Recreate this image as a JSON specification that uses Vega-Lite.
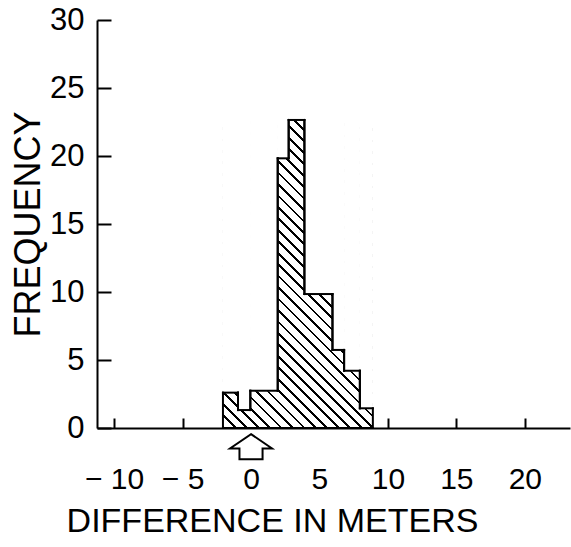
{
  "$schema": "https://vega.github.io/schema/vega-lite/v6.json",
  "width": 473,
  "height": 408,
  "autosize": {"type": "none"},
  "padding": {"left": 97, "top": 20, "right": 1, "bottom": 119},
  "config": {"view": {"stroke": null}, "font": "Liberation Sans"},
  "data": {"values": [
    {"x0": -2.05, "x1": -0.95, "h": 2.6},
    {"x0": -0.95, "x1": -0.05, "h": 1.32},
    {"x0": -0.05, "x1": 1.95, "h": 2.74},
    {"x0": 1.95, "x1": 2.75, "h": 19.83},
    {"x0": 2.75, "x1": 3.9, "h": 22.65},
    {"x0": 3.9, "x1": 5.95, "h": 9.85},
    {"x0": 5.95, "x1": 6.8, "h": 5.74},
    {"x0": 6.8, "x1": 7.95, "h": 4.21},
    {"x0": 7.95, "x1": 8.9, "h": 1.45}
  ]},
  "layer": [
    {
      "transform": [{"aggregate": [
        {"op": "min", "field": "x0", "as": "xmin"},
        {"op": "max", "field": "x1", "as": "xmax"},
        {"op": "max", "field": "h", "as": "hmax"}
      ]}],
      "mark": {"type": "rect", "fill": {"gradient": "linear", "x1": 0, "y1": 1, "x2": 0.585, "y2": -0.202, "stops": [
        {"offset": 0, "color": "black"}, {"offset": 0.006, "color": "black"}, {"offset": 0.006, "color": "white"}, {"offset": 0.025, "color": "white"},
        {"offset": 0.025, "color": "black"}, {"offset": 0.031, "color": "black"}, {"offset": 0.031, "color": "white"}, {"offset": 0.05, "color": "white"},
        {"offset": 0.05, "color": "black"}, {"offset": 0.056, "color": "black"}, {"offset": 0.056, "color": "white"}, {"offset": 0.075, "color": "white"},
        {"offset": 0.075, "color": "black"}, {"offset": 0.081, "color": "black"}, {"offset": 0.081, "color": "white"}, {"offset": 0.1, "color": "white"},
        {"offset": 0.1, "color": "black"}, {"offset": 0.106, "color": "black"}, {"offset": 0.106, "color": "white"}, {"offset": 0.125, "color": "white"},
        {"offset": 0.125, "color": "black"}, {"offset": 0.131, "color": "black"}, {"offset": 0.131, "color": "white"}, {"offset": 0.15, "color": "white"},
        {"offset": 0.15, "color": "black"}, {"offset": 0.156, "color": "black"}, {"offset": 0.156, "color": "white"}, {"offset": 0.175, "color": "white"},
        {"offset": 0.175, "color": "black"}, {"offset": 0.181, "color": "black"}, {"offset": 0.181, "color": "white"}, {"offset": 0.2, "color": "white"},
        {"offset": 0.2, "color": "black"}, {"offset": 0.206, "color": "black"}, {"offset": 0.206, "color": "white"}, {"offset": 0.225, "color": "white"},
        {"offset": 0.225, "color": "black"}, {"offset": 0.231, "color": "black"}, {"offset": 0.231, "color": "white"}, {"offset": 0.25, "color": "white"},
        {"offset": 0.25, "color": "black"}, {"offset": 0.256, "color": "black"}, {"offset": 0.256, "color": "white"}, {"offset": 0.275, "color": "white"},
        {"offset": 0.275, "color": "black"}, {"offset": 0.281, "color": "black"}, {"offset": 0.281, "color": "white"}, {"offset": 0.3, "color": "white"},
        {"offset": 0.3, "color": "black"}, {"offset": 0.306, "color": "black"}, {"offset": 0.306, "color": "white"}, {"offset": 0.325, "color": "white"},
        {"offset": 0.325, "color": "black"}, {"offset": 0.331, "color": "black"}, {"offset": 0.331, "color": "white"}, {"offset": 0.35, "color": "white"},
        {"offset": 0.35, "color": "black"}, {"offset": 0.356, "color": "black"}, {"offset": 0.356, "color": "white"}, {"offset": 0.375, "color": "white"},
        {"offset": 0.375, "color": "black"}, {"offset": 0.381, "color": "black"}, {"offset": 0.381, "color": "white"}, {"offset": 0.4, "color": "white"},
        {"offset": 0.4, "color": "black"}, {"offset": 0.406, "color": "black"}, {"offset": 0.406, "color": "white"}, {"offset": 0.425, "color": "white"},
        {"offset": 0.425, "color": "black"}, {"offset": 0.431, "color": "black"}, {"offset": 0.431, "color": "white"}, {"offset": 0.45, "color": "white"},
        {"offset": 0.45, "color": "black"}, {"offset": 0.456, "color": "black"}, {"offset": 0.456, "color": "white"}, {"offset": 0.475, "color": "white"},
        {"offset": 0.475, "color": "black"}, {"offset": 0.481, "color": "black"}, {"offset": 0.481, "color": "white"}, {"offset": 0.5, "color": "white"},
        {"offset": 0.5, "color": "black"}, {"offset": 0.506, "color": "black"}, {"offset": 0.506, "color": "white"}, {"offset": 0.525, "color": "white"},
        {"offset": 0.525, "color": "black"}, {"offset": 0.531, "color": "black"}, {"offset": 0.531, "color": "white"}, {"offset": 0.55, "color": "white"},
        {"offset": 0.55, "color": "black"}, {"offset": 0.556, "color": "black"}, {"offset": 0.556, "color": "white"}, {"offset": 0.575, "color": "white"},
        {"offset": 0.575, "color": "black"}, {"offset": 0.581, "color": "black"}, {"offset": 0.581, "color": "white"}, {"offset": 0.6, "color": "white"},
        {"offset": 0.6, "color": "black"}, {"offset": 0.606, "color": "black"}, {"offset": 0.606, "color": "white"}, {"offset": 0.625, "color": "white"},
        {"offset": 0.625, "color": "black"}, {"offset": 0.631, "color": "black"}, {"offset": 0.631, "color": "white"}, {"offset": 0.65, "color": "white"},
        {"offset": 0.65, "color": "black"}, {"offset": 0.656, "color": "black"}, {"offset": 0.656, "color": "white"}, {"offset": 0.675, "color": "white"},
        {"offset": 0.675, "color": "black"}, {"offset": 0.681, "color": "black"}, {"offset": 0.681, "color": "white"}, {"offset": 0.7, "color": "white"},
        {"offset": 0.7, "color": "black"}, {"offset": 0.706, "color": "black"}, {"offset": 0.706, "color": "white"}, {"offset": 0.725, "color": "white"},
        {"offset": 0.725, "color": "black"}, {"offset": 0.731, "color": "black"}, {"offset": 0.731, "color": "white"}, {"offset": 0.75, "color": "white"},
        {"offset": 0.75, "color": "black"}, {"offset": 0.756, "color": "black"}, {"offset": 0.756, "color": "white"}, {"offset": 0.775, "color": "white"},
        {"offset": 0.775, "color": "black"}, {"offset": 0.781, "color": "black"}, {"offset": 0.781, "color": "white"}, {"offset": 0.8, "color": "white"},
        {"offset": 0.8, "color": "black"}, {"offset": 0.806, "color": "black"}, {"offset": 0.806, "color": "white"}, {"offset": 0.825, "color": "white"},
        {"offset": 0.825, "color": "black"}, {"offset": 0.831, "color": "black"}, {"offset": 0.831, "color": "white"}, {"offset": 0.85, "color": "white"},
        {"offset": 0.85, "color": "black"}, {"offset": 0.856, "color": "black"}, {"offset": 0.856, "color": "white"}, {"offset": 0.875, "color": "white"},
        {"offset": 0.875, "color": "black"}, {"offset": 0.881, "color": "black"}, {"offset": 0.881, "color": "white"}, {"offset": 0.9, "color": "white"},
        {"offset": 0.9, "color": "black"}, {"offset": 0.906, "color": "black"}, {"offset": 0.906, "color": "white"}, {"offset": 0.925, "color": "white"},
        {"offset": 0.925, "color": "black"}, {"offset": 0.931, "color": "black"}, {"offset": 0.931, "color": "white"}, {"offset": 0.95, "color": "white"},
        {"offset": 0.95, "color": "black"}, {"offset": 0.956, "color": "black"}, {"offset": 0.956, "color": "white"}, {"offset": 0.975, "color": "white"},
        {"offset": 0.975, "color": "black"}, {"offset": 0.981, "color": "black"}, {"offset": 0.981, "color": "white"}, {"offset": 1, "color": "white"}
      ]}},
      "encoding": {
        "x": {"field": "xmin", "type": "quantitative", "title": "DIFFERENCE IN METERS",
          "scale": {"domain": [-11.25, 23.3], "nice": false, "zero": false},
          "axis": {"values": [-10, -5, 0, 5, 10, 15, 20],
            "labelExpr": "datum.value < 0 ? '− ' + abs(datum.value) : datum.label",
            "grid": false, "tickSize": -10, "tickWidth": 2, "tickColor": "black",
            "domainColor": "black", "domainWidth": 2,
            "labelFont": "Liberation Sans", "labelFontSize": 30, "labelColor": "black",
            "labelPadding": 46, "labelFlush": false, "labelOverlap": false,
            "titleFont": "Liberation Sans", "titleFontSize": 34, "titleFontWeight": "normal",
            "titleColor": "black", "titleX": 175, "titlePadding": 10}},
        "x2": {"field": "xmax"},
        "y": {"field": "hmax", "type": "quantitative", "title": "FREQUENCY",
          "scale": {"domain": [0, 30], "nice": false, "zero": false},
          "axis": {"values": [0, 5, 10, 15, 20, 25, 30],
            "grid": false, "tickSize": -14, "tickWidth": 2, "tickColor": "black",
            "domainColor": "black", "domainWidth": 2,
            "labelFont": "Liberation Sans", "labelFontSize": 31, "labelColor": "black",
            "labelPadding": 27, "labelOverlap": false,
            "titleFont": "Liberation Sans", "titleFontSize": 36, "titleFontWeight": "normal",
            "titleColor": "black", "titlePadding": 2}},
        "y2": {"datum": 0}
      }
    },
    {
      "transform": [{"joinaggregate": [{"op": "max", "field": "h", "as": "hmax"}]}],
      "mark": {"type": "rect", "fill": "white", "stroke": "white", "strokeWidth": 1},
      "encoding": {
        "x": {"field": "x0", "type": "quantitative", "title": "DIFFERENCE IN METERS"},
        "x2": {"field": "x1"},
        "y": {"field": "h", "type": "quantitative", "title": "FREQUENCY"},
        "y2": {"field": "hmax"}
      }
    },
    {
      "transform": [
        {"window": [{"op": "lag", "field": "h", "as": "hprev"}, {"op": "lead", "field": "h", "as": "hnext"}], "sort": [{"field": "x0", "order": "ascending"}]},
        {"calculate": "isValid(datum.hprev) ? datum.hprev : 0", "as": "hp"},
        {"calculate": "isValid(datum.hnext) ? datum.hnext : 0", "as": "hn"}
      ],
      "layer": [
        {"mark": {"type": "rule", "color": "black", "strokeWidth": 2, "strokeCap": "square"},
         "encoding": {"x": {"field": "x0", "type": "quantitative", "title": "DIFFERENCE IN METERS"}, "x2": {"field": "x1"}, "y": {"field": "h", "type": "quantitative", "title": "FREQUENCY"}}},
        {"mark": {"type": "rule", "color": "black", "strokeWidth": 2, "strokeCap": "square"},
         "encoding": {"x": {"field": "x0", "type": "quantitative", "title": "DIFFERENCE IN METERS"}, "x2": {"field": "x1"}, "y": {"datum": 0, "type": "quantitative", "title": "FREQUENCY"}}},
        {"mark": {"type": "rule", "color": "black", "strokeWidth": 2, "strokeCap": "square"},
         "encoding": {"x": {"field": "x0", "type": "quantitative", "title": "DIFFERENCE IN METERS"}, "y": {"field": "h", "type": "quantitative", "title": "FREQUENCY"}, "y2": {"field": "hp"}}},
        {"mark": {"type": "rule", "color": "black", "strokeWidth": 2, "strokeCap": "square"},
         "encoding": {"x": {"field": "x1", "type": "quantitative", "title": "DIFFERENCE IN METERS"}, "y": {"field": "h", "type": "quantitative", "title": "FREQUENCY"}, "y2": {"field": "hn"}}}
      ]
    },
    {
      "data": {"values": [{"marker": 0}]},
      "mark": {"type": "point", "filled": false, "stroke": "black", "strokeWidth": 2, "fill": "white", "fillOpacity": 1,
        "shape": "M0,-0.6L1,0.08L0.55,0.08L0.55,0.6L-0.55,0.6L-0.55,0.08L-1,0.08Z", "size": 1764, "yOffset": 18.7, "opacity": 1},
      "encoding": {
        "x": {"field": "marker", "type": "quantitative", "title": "DIFFERENCE IN METERS"},
        "y": {"datum": 0, "type": "quantitative", "title": "FREQUENCY"}
      }
    }
  ]
}
